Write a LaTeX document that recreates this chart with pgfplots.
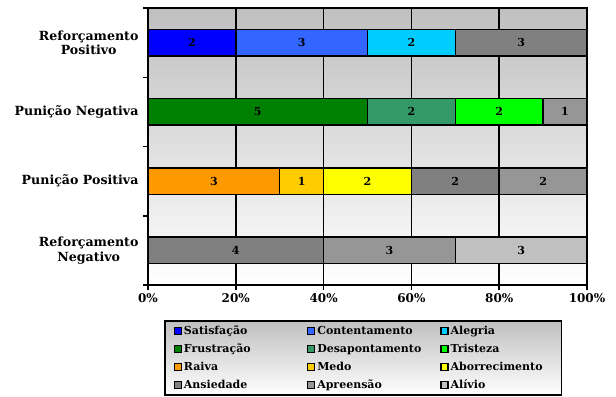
\documentclass[border=0pt]{standalone}
\usepackage{fontspec}
\setmainfont{DejaVu Serif}
\usepackage{pgfplots}
\usepackage{pgfplotstable}
\pgfplotsset{compat=1.18}
\definecolor{cSat}{HTML}{0000FF}
\definecolor{cCont}{HTML}{3366FF}
\definecolor{cAleg}{HTML}{00CCFF}
\definecolor{cFrus}{HTML}{008000}
\definecolor{cDesa}{HTML}{339966}
\definecolor{cTris}{HTML}{00FF00}
\definecolor{cRaiv}{HTML}{FF9900}
\definecolor{cMedo}{HTML}{FFCC00}
\definecolor{cAbor}{HTML}{FFFF00}
\definecolor{cAnsi}{HTML}{808080}
\definecolor{cApre}{HTML}{969696}
\definecolor{cAliv}{HTML}{C0C0C0}
\pgfplotstableread{
y Sat Cont Aleg Frus Desa Tris Raiv Medo Abor Ansi Apre Aliv
0 20 30 20 0 0 0 0 0 0 30 0 0
1 0 0 0 50 20 20 0 0 0 0 10 0
2 0 0 0 0 0 0 30 10 20 20 20 0
3 0 0 0 0 0 0 0 0 0 40 30 30
}\data
\pgfplotstableread{
x y lab
10 0 2
35 0 3
60 0 2
85 0 3
25 1 5
60 1 2
80 1 2
95 1 1
15 2 3
35 2 1
50 2 2
70 2 2
90 2 2
20 3 4
55 3 3
85 3 3
}\labels
\begin{document}
\begin{tikzpicture}
\pgfplotsset{common/.style={width=439pt,height=277pt,scale only axis,xmin=0,xmax=100,ymin=-0.5,ymax=3.5,y dir=reverse}}
\begin{axis}[common, name=main,
  xbar stacked, bar width=0.38,
  axis background/.style={top color=black!25,bottom color=white},
  axis line style={line width=1.5pt},
  xtick={0,20,...,100}, xticklabels={0\%,20\%,40\%,60\%,80\%,100\%},
  ytick={-0.5,0.5,1.5,2.5,3.5},
  y tick label as interval,
  yticklabels={{Reforçamento\\Positivo},{Punição Negativa},{Punição Positiva},{Reforçamento\\Negativo}},
  yticklabel style={align=center,font=\bfseries\fontsize{12.6}{14.5}\selectfont,xshift=-1pt},
  xticklabel style={font=\bfseries\fontsize{12}{13}\selectfont},
  tick pos=left, tick align=outside, major tick length=5pt,
  tick style={black,line width=1.5pt},
  xmajorgrids, major grid style={black,line width=1.5pt},
  legend columns=3, legend cell align=left,
  legend image code/.code={\draw[#1,line width=1.3pt] (0pt,-3.5pt) rectangle (7pt,3.5pt);},
  legend style={at={(0.49,-0.126)}, anchor=north, top color=black!25, bottom color=white,
    draw=black, line width=1.8pt, font=\bfseries\fontsize{11}{12}\selectfont,
    inner xsep=9pt, inner ysep=3pt, row sep=4pt},
]
\addplot[fill=cSat,draw=black,line width=1.5pt] table[x=Sat,y=y]{\data};
\addlegendentry{\makebox[121pt][l]{Satisfação}}
\addplot[fill=cCont,draw=black,line width=1.5pt] table[x=Cont,y=y]{\data};
\addlegendentry{\makebox[121pt][l]{Contentamento}}
\addplot[fill=cAleg,draw=black,line width=1.5pt] table[x=Aleg,y=y]{\data};
\addlegendentry{\makebox[100pt][l]{Alegria}}
\addplot[fill=cFrus,draw=black,line width=1.5pt] table[x=Frus,y=y]{\data};
\addlegendentry{Frustração}
\addplot[fill=cDesa,draw=black,line width=1.5pt] table[x=Desa,y=y]{\data};
\addlegendentry{Desapontamento}
\addplot[fill=cTris,draw=black,line width=1.5pt] table[x=Tris,y=y]{\data};
\addlegendentry{Tristeza}
\addplot[fill=cRaiv,draw=black,line width=1.5pt] table[x=Raiv,y=y]{\data};
\addlegendentry{Raiva}
\addplot[fill=cMedo,draw=black,line width=1.5pt] table[x=Medo,y=y]{\data};
\addlegendentry{Medo}
\addplot[fill=cAbor,draw=black,line width=1.5pt] table[x=Abor,y=y]{\data};
\addlegendentry{Aborrecimento}
\addplot[fill=cAnsi,draw=black,line width=1.5pt] table[x=Ansi,y=y]{\data};
\addlegendentry{Ansiedade}
\addplot[fill=cApre,draw=black,line width=1.5pt] table[x=Apre,y=y]{\data};
\addlegendentry{Apreensão}
\addplot[fill=cAliv,draw=black,line width=1.5pt] table[x=Aliv,y=y]{\data};
\addlegendentry{Alívio}
\end{axis}
\begin{axis}[common, hide axis]
\addplot[draw=none, mark=none, point meta=explicit symbolic, nodes near coords,
  nodes near coords style={anchor=center, font=\bfseries\fontsize{11}{11}\selectfont}]
  table[x=x,y=y,meta=lab]{\labels};
\end{axis}
\path ([xshift=-148pt,yshift=8pt]main.north west) rectangle ([xshift=29pt,yshift=-111pt]main.south east);
\end{tikzpicture}
\end{document}
